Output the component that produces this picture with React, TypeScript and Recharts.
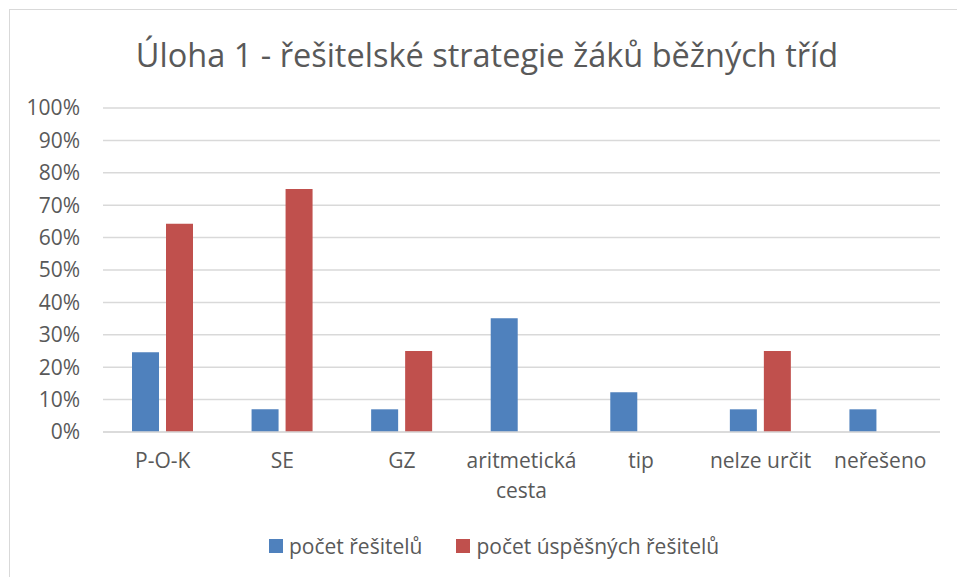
import { BarChart, Bar, XAxis, YAxis, CartesianGrid } from 'recharts';

const categories = ['P-O-K', 'SE', 'GZ', 'aritmetická cesta', 'tip', 'nelze určit', 'neřešeno'];
const solvers = [0.246, 0.07, 0.07, 0.351, 0.123, 0.07, 0.07];
const successful = [0.643, 0.75, 0.25, 0, 0, 0.25, 0];
const yTicks = [0, 0.1, 0.2, 0.3, 0.4, 0.5, 0.6, 0.7, 0.8, 0.9, 1];
const seriesNames = ['počet řešitelů', 'počet úspěšných řešitelů'];
const seriesColors = ['#4f81bd', '#c0504d'];

const data = categories.map((category, i) => ({
  category,
  solvers: solvers[i],
  successful: successful[i],
}));

const FONT = '"Open Sans", sans-serif';
const TEXT = '#595959';

// long labels go onto two lines, like the original
function CategoryTick(props: any) {
  const { x, y, payload } = props;
  const label: string = payload.value;
  const lines = label.length > 12 ? label.split(' ') : [label];
  return (
    <text x={x} y={y} textAnchor="middle" fontSize={21} fontFamily={FONT} fill={TEXT}>
      {lines.map((line, i) => (
        <tspan key={i} x={x} dy={i === 0 ? '0.85em' : 30}>
          {line}
        </tspan>
      ))}
    </text>
  );
}

export default function App() {
  return (
    <div style={{ position: 'fixed', left: 0, top: 0, width: 957, height: 577, overflow: 'hidden', background: '#fff' }}>
      <div
        style={{
          position: 'absolute',
          left: 9,
          top: 9,
          width: 960,
          height: 600,
          border: '1.5px solid #d9d9d9',
        }}
      />
      <div
        style={{
          position: 'absolute',
          left: 9,
          width: 956,
          top: 33,
          textAlign: 'center',
          fontFamily: FONT,
          fontSize: 32.5,
          color: TEXT,
          lineHeight: '44px',
        }}
      >
        Úloha 1 - řešitelské strategie žáků běžných tříd
      </div>
      <div style={{ position: 'absolute', left: 0, top: 0 }}>
        <BarChart
          width={957}
          height={577}
          data={data}
          margin={{ top: 108, right: 17, bottom: 115, left: 13 }}
          barSize={27}
          barGap={7}
        >
          <CartesianGrid vertical={false} stroke="#d9d9d9" strokeWidth={1.5} />
          <XAxis
            dataKey="category"
            height={30}
            axisLine={{ stroke: '#d9d9d9', strokeWidth: 1.5 }}
            tickLine={false}
            tickSize={0}
            tickMargin={18}
            interval={0}
            tick={<CategoryTick />}
          />
          <YAxis
            width={90}
            domain={[0, 1]}
            ticks={yTicks}
            interval={0}
            axisLine={false}
            tickLine={false}
            tickSize={0}
            tickMargin={23}
            tickFormatter={(v) => `${Math.round(v * 100)}%`}
            tick={{ fontSize: 21, fontFamily: FONT, fill: TEXT }}
          />
          <Bar dataKey="solvers" name={seriesNames[0]} fill={seriesColors[0]} isAnimationActive={false} />
          <Bar dataKey="successful" name={seriesNames[1]} fill={seriesColors[1]} isAnimationActive={false} />
        </BarChart>
      </div>
      <div
        style={{
          position: 'absolute',
          top: 531,
          left: 269,
          display: 'flex',
          fontFamily: FONT,
          fontSize: 21,
          color: TEXT,
          lineHeight: '30px',
        }}
      >
        {seriesNames.map((name, i) => (
          <div key={name} style={{ display: 'flex', alignItems: 'center', marginLeft: i ? 34 : 0 }}>
            <span style={{ width: 14, height: 14, background: seriesColors[i], display: 'inline-block', marginRight: 6 }} />
            <span>{name}</span>
          </div>
        ))}
      </div>
    </div>
  );
}
